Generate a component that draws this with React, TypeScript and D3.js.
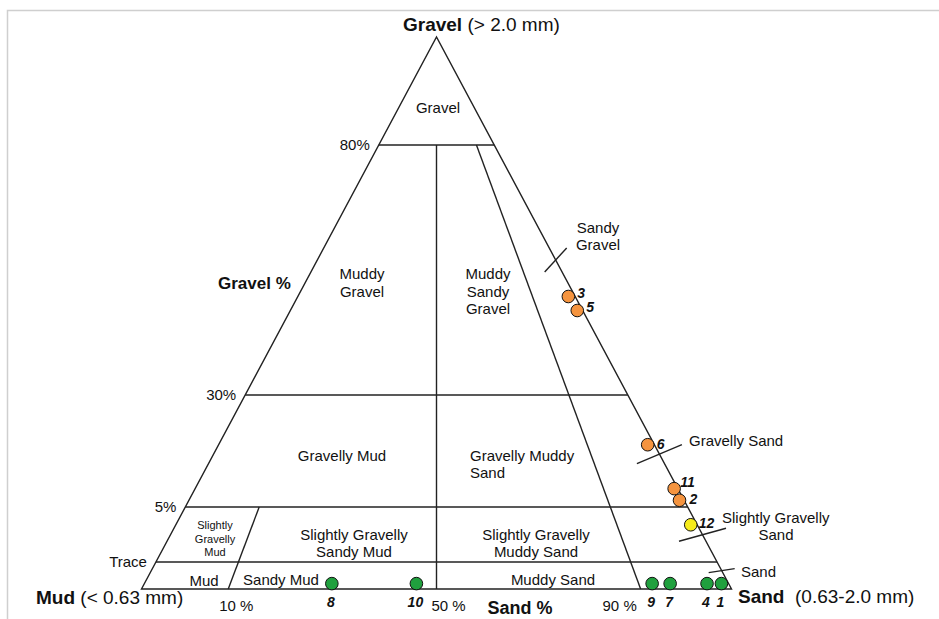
import React, { useEffect, useRef } from "react";
import * as d3 from "d3";

// gravel class boundaries (%), "trace" drawn as a tiny non-zero value
const TRACE = 0.05;
const gravelLevels = [TRACE, 5, 30, 80];
const gravelTicks = ["Trace", "5%", "30%", "80%"];

// sand : (sand + mud) ratio lines
const ratioLines = [10, 50, 90];
const ratioTop = [5, 80, 80]; // gravel % where each ratio line stops
const ratioTicks = ["10 %", "50 %", "90 %"];

// samples: id, gravel %, sand ratio %, colour group
const sampleIds = ["1", "2", "3", "4", "5", "6", "7", "8", "9", "10", "11", "12"];
const sampleGravel = [0.01, 6.5, 49.7, 0.01, 46.9, 18.9, 0.01, 0.01, 0.01, 0.01, 9.1, 3.4];
const sampleSand = [99.2, 99.4, 98.4, 97.6, 98.8, 99.0, 93.5, 29.7, 91.5, 46.1, 99.5, 99.2];
const sampleGroup = ["g", "o", "o", "g", "o", "o", "g", "g", "g", "g", "o", "y"];

// leader ticks for the narrow sand classes along the right edge (gravel % at crossing)
const leaderNames = ["Sandy Gravel", "Gravelly Sand", "Slightly Gravelly Sand", "Sand"];
const leaderGravel = [57, 16.8, 2.5, 0.034];

const colors: Record<string, string> = { o: "#f5943f", g: "#20a03e", y: "#f7ec1a" };
const FONT = "'Liberation Sans', Arial, Helvetica, sans-serif";

const App = () => {
  const ref = useRef<SVGSVGElement>(null);

  useEffect(() => {
    const svg = d3.select(ref.current);
    svg.selectAll("*").remove();

    const Lx = 141.5, Rx = 731.5, Ax = 436.5;
    const base = 589, top = 37;

    // Folk diagram: gravel axis is stretched piecewise
    const gy = d3.scaleLinear().domain([0, TRACE, 5, 30, 80, 100]).range([base, 562, 507, 395, 145, top]);
    const rs = d3.scaleLinear().domain([0, 10, 50, 90, 100]).range([0, 0.147, 0.5, 0.846, 1]);

    const pt = (g: number, r: number): [number, number] => {
      const y = gy(g);
      const f = (base - y) / (base - top);
      const left = Lx + f * (Ax - Lx);
      const right = Rx - f * (Rx - Ax);
      return [left + rs(r) * (right - left), y];
    };

    // frame
    svg.append("path").attr("d", "M7.5,619 L7.5,10.5 L939,10.5")
      .attr("fill", "none").attr("stroke", "#cfcfcf").attr("stroke-width", 1.5);

    const g = svg.append("g").attr("stroke", "#222").attr("stroke-width", 1.4).attr("fill", "none");

    g.append("path").attr("d", `M${Lx},${base} L${Rx},${base} L${Ax},${top} Z`);

    gravelLevels.forEach(lv => {
      const a = pt(lv, 0), b = pt(lv, 100);
      g.append("line").attr("x1", a[0]).attr("y1", a[1]).attr("x2", b[0]).attr("y2", b[1]);
    });

    ratioLines.forEach((r, i) => {
      const a = pt(0, r), b = pt(ratioTop[i], r);
      g.append("line").attr("x1", a[0]).attr("y1", a[1]).attr("x2", b[0]).attr("y2", b[1]);
    });

    // leader ticks across right edge
    const leaderVec = [[11, -12], [22.5, -9.5], [23.5, -6.5], [13, -2]];
    leaderGravel.forEach((lv, i) => {
      const c = pt(lv, 100);
      const v = leaderVec[i];
      g.append("line").attr("x1", c[0] - v[0]).attr("y1", c[1] - v[1])
        .attr("x2", c[0] + v[0]).attr("y2", c[1] + v[1]);
    });

    const txt = (x: number, y: number, s: string, opts: any = {}) =>
      svg.append("text").attr("x", x).attr("y", y).text(s)
        .attr("font-family", FONT)
        .attr("font-size", opts.size || 15)
        .attr("font-weight", opts.bold ? "bold" : "normal")
        .attr("font-style", opts.italic ? "italic" : "normal")
        .attr("text-anchor", opts.anchor || "start")
        .attr("fill", "#111");

    // gravel % tick labels
    gravelLevels.forEach((lv, i) => {
      const a = pt(lv, 0);
      txt(a[0] - 9, a[1] + 5, gravelTicks[i], { anchor: "end" });
    });
    // ratio tick labels
    ratioLines.forEach((r, i) => {
      const a = pt(0, r);
      const dx = [8, 12, -21][i];
      txt(a[0] + dx, 611, ratioTicks[i], { anchor: "middle" });
    });

    // axis titles
    const head = txt(403, 31, "", { size: 19 });
    head.append("tspan").attr("font-weight", "bold").text("Gravel");
    head.append("tspan").text(" (> 2.0 mm)");
    const mud = txt(36, 604, "", { size: 19 });
    mud.append("tspan").attr("font-weight", "bold").text("Mud");
    mud.append("tspan").text(" (< 0.63 mm)");
    const sand = txt(738, 603, "", { size: 19 });
    sand.append("tspan").attr("font-weight", "bold").text("Sand");
    sand.append("tspan").text("\u00a0 (0.63-2.0 mm)");
    txt(218, 289, "Gravel %", { size: 17, bold: true });
    txt(520, 614, "Sand %", { size: 18, bold: true, anchor: "middle" });

    // class names inside the triangle
    const multi = (x: number, y: number, lines: string[], lh: number, opts: any = {}) =>
      lines.forEach((l, i) => txt(x, y + i * lh, l, opts));
    multi(438, 113, ["Gravel"], 0, { anchor: "middle" });
    multi(362, 279, ["Muddy", "Gravel"], 17.5, { anchor: "middle" });
    multi(488, 279, ["Muddy", "Sandy", "Gravel"], 17.5, { anchor: "middle" });
    multi(342, 461, ["Gravelly Mud"], 0, { anchor: "middle" });
    multi(470, 461, ["Gravelly Muddy", "Sand"], 17, {});
    multi(215, 529, ["Slightly", "Gravelly", "Mud"], 13.5, { size: 11, anchor: "middle" });
    multi(354, 540, ["Slightly Gravelly", "Sandy Mud"], 16.5, { anchor: "middle" });
    multi(536, 540, ["Slightly Gravelly", "Muddy Sand"], 16.5, { anchor: "middle" });
    txt(204, 586, "Mud", { anchor: "middle" });
    txt(281, 585, "Sandy Mud", { anchor: "middle" });
    txt(553, 585, "Muddy Sand", { anchor: "middle" });

    // class names outside, next to leader ticks
    multi(598, 233, ["Sandy", "Gravel"], 17, { anchor: "middle" });
    txt(689, 446, leaderNames[1]);
    txt(722, 523, "Slightly Gravelly");
    txt(776, 540, "Sand", { anchor: "middle" });
    txt(741, 577, leaderNames[3]);

    // samples
    const labelOff: Record<string, [number, number, string]> = {
      "3": [9, 1, "start"], "5": [9, 1, "start"], "6": [9, 4, "start"],
      "11": [6, -2, "start"], "2": [10, 4, "start"], "12": [8, 3, "start"],
    };
    sampleIds.forEach((id, i) => {
      const [x, y] = pt(sampleGravel[i], sampleSand[i]);
      svg.append("circle").attr("cx", x).attr("cy", y).attr("r", 6.3)
        .attr("fill", colors[sampleGroup[i]]).attr("stroke", "#111").attr("stroke-width", 1);
      const o = labelOff[id];
      if (o) txt(x + o[0], y + o[1], id, { size: 14, bold: true, italic: true, anchor: o[2] });
      else txt(x - 1, 607, id, { size: 14, bold: true, italic: true, anchor: "middle" });
    });
  }, []);

  return (
    <svg
      ref={ref}
      width={939}
      height={619}
      style={{ position: "absolute", left: 0, top: 0, background: "#fff" }}
    />
  );
};

export default App;
